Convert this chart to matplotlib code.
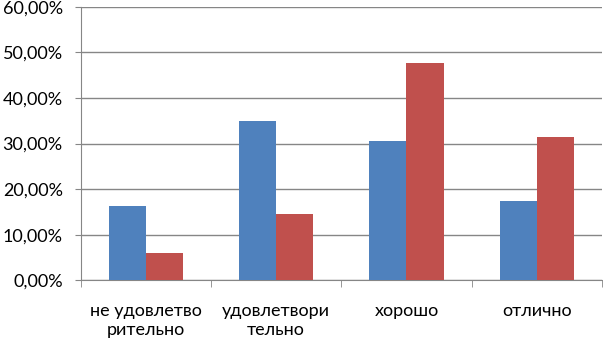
import numpy as np
import matplotlib.pyplot as plt
from matplotlib.ticker import FuncFormatter

plt.rcParams['font.family'] = ['Lato', 'DejaVu Sans']

categories = ['не удовлетво\nрительно', 'удовлетвори\nтельно', 'хорошо', 'отлично']
series_blue = [16.4, 34.9, 30.5, 17.4]
series_red = [6.0, 14.5, 47.6, 31.4]

blue = '#4F81BD'
red = '#C0504D'
grey = '#868686'

fig = plt.figure(figsize=(6.03, 3.44), dpi=100)
ax = fig.add_axes([0.134, 0.185, 0.864, 0.795])

x = np.arange(len(categories))
w = 0.285
ax.bar(x - w / 2, series_blue, w, color=blue, zorder=3)
ax.bar(x + w / 2, series_red, w, color=red, zorder=3)

ax.set_xlim(-0.5, len(categories) - 0.5)
ax.set_ylim(0, 60)
ax.set_yticks(np.arange(0, 61, 10))
ax.yaxis.set_major_formatter(FuncFormatter(lambda v, p: f'{v:.2f}%'.replace('.', ',')))
ax.grid(axis='y', color=grey, linewidth=1, zorder=0)

ax.set_xticks(x)
ax.set_xticklabels(categories, fontsize=13, linespacing=1.3)
ax.tick_params(axis='x', which='major', length=0, pad=16)
ax.set_xticks(np.arange(-0.5, len(categories)), minor=True)
ax.tick_params(axis='x', which='minor', length=5, color=grey, direction='out')
ax.tick_params(axis='y', length=4, color=grey, labelsize=13, pad=9)

for s in ['top', 'right']:
    ax.spines[s].set_visible(False)
for s in ['left', 'bottom']:
    ax.spines[s].set_color(grey)

fig.savefig('out.png', dpi=100)
